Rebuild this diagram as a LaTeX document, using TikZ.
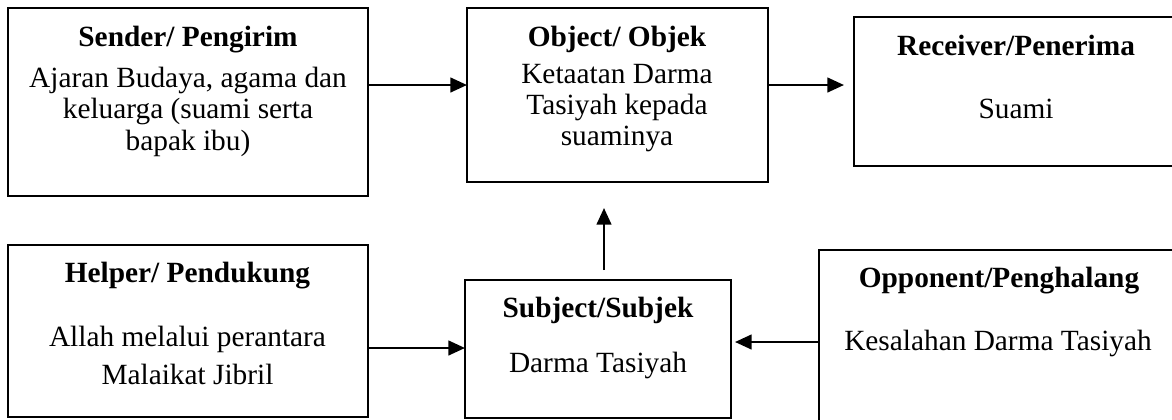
\documentclass[tikz,border=0pt]{standalone}
\usepackage{fontspec}
\setmainfont{Liberation Serif}
\usetikzlibrary{arrows.meta}
\begin{document}
\begin{tikzpicture}[x=0.75pt,y=-0.75pt,
 box/.style={draw,line width=1.4pt,rectangle,inner sep=0pt,outer sep=0pt},
 ttl/.style={anchor=base,inner sep=0pt,font=\fontsize{22}{24}\selectfont\bfseries},
 txt/.style={anchor=base,inner sep=0pt,font=\fontsize{22}{24}\selectfont},
 arr/.style={line width=1.8pt,-{Triangle[length=12.5pt,width=11pt]}}]
\useasboundingbox (0,0) rectangle (1172,419);
\clip (0,0) rectangle (1172,419);
% boxes
\node[box,minimum width=270pt,minimum height=141pt] (sender) at (188,102) {};
\node[box,minimum width=225.75pt,minimum height=130.5pt] (object) at (617.5,95) {};
\node[box,minimum width=252pt,minimum height=111.75pt] (receiver) at (1022,91.5) {};
\node[box,minimum width=270pt,minimum height=129pt] (helper) at (188,331) {};
\node[box,minimum width=199.5pt,minimum height=103.5pt] (subject) at (598,349) {};
\node[box,minimum width=278.25pt,minimum height=135pt] (opponent) at (1004.5,340) {};
% texts
\node[ttl] (s0) at (188,46) {Sender/ Pengirim};
\node[txt] (s1) at (188,87) {Ajaran Budaya, agama dan};
\node[txt] (s2) at (188,118.5) {keluarga (suami serta};
\node[txt] (s3) at (188,150) {bapak ibu)};
\node[ttl] (o0) at (617,46) {Object/ Objek};
\node[txt] (o1) at (617,83) {Ketaatan Darma};
\node[txt] (o2) at (617,114) {Tasiyah kepada};
\node[txt] (o3) at (617,145) {suaminya};
\node[ttl] (r0) at (1016,55) {Receiver/Penerima};
\node[txt] (r1) at (1016,118) {Suami};
\node[ttl] (h0) at (187.5,282) {Helper/ Pendukung};
\node[txt] (h1) at (187.5,346) {Allah melalui perantara};
\node[txt] (h2) at (187.5,384) {Malaikat Jibril};
\node[ttl] (b0) at (598,317) {Subject/Subjek};
\node[txt] (b1) at (598,372) {Darma Tasiyah};
\node[ttl] (p0) at (999,287) {Opponent/Penghalang};
\node[txt] (p1) at (998,350) {Kesalahan Darma Tasiyah};
% connectors
\draw[arr] (sender.east |- 0,85) -- (object.west |- 0,85);
\draw[arr,shorten >=7.5pt] (object.east |- 0,85) -- (receiver.west |- 0,85);
\draw[arr,shorten <=7.5pt,shorten >=19.5pt] (subject.north -| 604,0) -- (object.south -| 604,0);
\draw[arr] (helper.east |- 0,348) -- (subject.west |- 0,348);
\draw[arr,shorten >=3pt] (opponent.west |- 0,342) -- (subject.east |- 0,342);
\end{tikzpicture}
\end{document}
